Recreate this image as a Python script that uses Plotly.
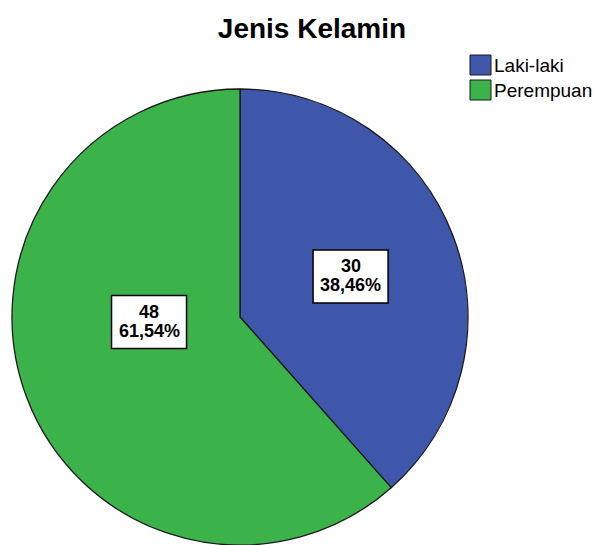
import plotly.graph_objects as go

categories = ["Laki-laki", "Perempuan"]
counts = [30, 48]
colors = ["#3f57ab", "#3cb34a"]
title_text = "Jenis Kelamin"

W, H = 598, 545
cx, cy, R = 240, 317, 228  # pixel geometry of pie

fig = go.Figure(go.Pie(
    labels=categories, values=counts, sort=False, direction="clockwise",
    rotation=0, marker=dict(colors=colors, line=dict(color="#1a1a1a", width=1.3)),
    textinfo="none", hoverinfo="label+value+percent", showlegend=False,
    domain=dict(x=[(cx - R) / W, (cx + R) / W], y=[(H - cy - R) / H, (H - cy + R) / H]),
))

def px2x(p):
    return p / W

def py2y(p):
    return 1 - p / H

total = sum(counts)
FONT = "Liberation Sans, Arial"
# label box centre offsets (fraction of radius) for each slice
label_offsets = [(0.485, -0.178), (-0.399, 0.022)]
bw, bh = 75, 53
for i, (c, v) in enumerate(zip(categories, counts)):
    pct = f"{v / total * 100:.2f}%".replace(".", ",")
    fx, fy = label_offsets[i]
    px, py = cx + fx * R, cy + fy * R
    fig.add_shape(type="rect", xref="paper", yref="paper",
                  x0=px2x(px - bw / 2), x1=px2x(px + bw / 2),
                  y0=py2y(py + bh / 2), y1=py2y(py - bh / 2),
                  fillcolor="white", line=dict(color="black", width=1.5))
    for dy, t in ((-10.5, str(v)), (8.5, pct)):
        fig.add_annotation(x=px2x(px), y=py2y(py + dy), xref="paper", yref="paper",
                           text=f"<b>{t}</b>", showarrow=False,
                           xanchor="center", yanchor="middle",
                           font=dict(family=FONT, size=18, color="black"))

# custom legend
lx, ly0, step, sqw, sqh = 470, 55, 25, 21, 20
for i, (c, col) in enumerate(zip(categories, colors)):
    y0 = ly0 + i * step
    fig.add_shape(type="rect", xref="paper", yref="paper",
                  x0=px2x(lx), x1=px2x(lx + sqw), y0=py2y(y0 + sqh), y1=py2y(y0),
                  fillcolor=col, line=dict(color="#1a1a1a", width=1))
    fig.add_annotation(x=px2x(lx + sqw + 1), y=py2y(y0 + sqh / 2 + 0.5), xref="paper", yref="paper",
                       text=c, showarrow=False, xanchor="left", yanchor="middle",
                       font=dict(family=FONT, size=19, color="black"))

fig.update_layout(
    width=W, height=H, margin=dict(l=0, r=0, t=0, b=0),
    paper_bgcolor="white", plot_bgcolor="white",
    title=dict(text=f"<b>{title_text}</b>", x=312 / W, xanchor="center",
               y=1 - 28 / H, yanchor="middle",
               font=dict(family=FONT, size=28, color="black")),
)

fig.write_html("out.html")
